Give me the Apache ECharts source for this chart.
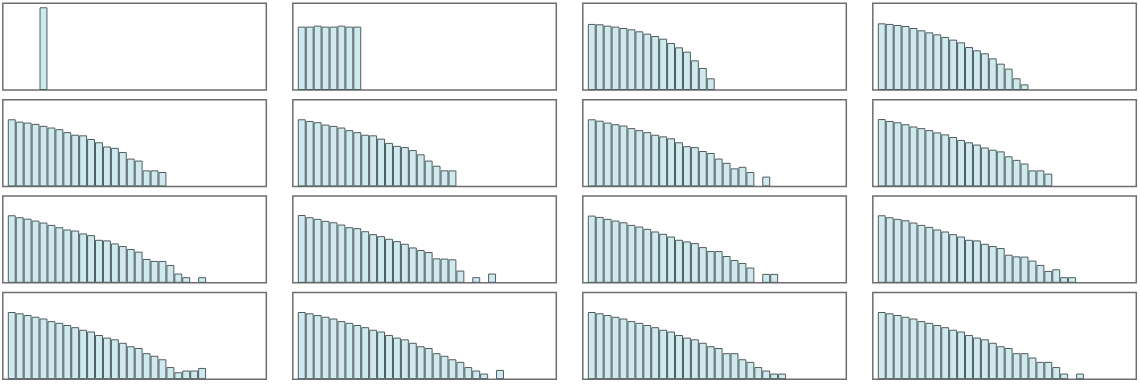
<!DOCTYPE html>
<html>
<head>
<meta charset="utf-8">
<script src="https://cdn.jsdelivr.net/npm/echarts@6/dist/echarts.min.js"></script>
<style>
html,body{margin:0;padding:0;background:#fff;}
#chart{width:1140px;height:384px;}
</style>
</head>
<body>
<div id="chart"></div>
<script>
// bin positions shared by every panel (32 bins)
const bins = Array.from({length: 32}, (_, i) => String(i));

// bar heights per panel, in % of the panel height (null = empty bin)
const panel01 = [null, null, null, null, 95.4];
const panel02 = [73.1, 73.1, 74.2, 73.1, 73.1, 74.2, 73.1, 73.1];
const panel03 = [76.2, 75.8, 74.2, 73.1, 71.5, 70.0, 67.7, 65.0, 62.3, 59.2, 54.2, 49.2, 44.2, 34.2, 25.4, 13.5];
const panel04 = [76.9, 76.2, 75.0, 73.8, 71.5, 68.8, 66.5, 64.2, 61.2, 58.1, 55.0, 49.6, 45.8, 42.3, 36.5, 30.4, 24.6, 13.5, 6.5];
const panel05 = [77.4, 74.7, 73.6, 72.1, 69.8, 67.9, 66.0, 62.6, 59.6, 58.9, 54.7, 50.9, 46.0, 44.5, 39.6, 32.1, 29.8, 18.5, 18.5, 16.6];
const panel06 = [77.4, 75.5, 74.0, 71.3, 69.8, 67.9, 64.9, 62.6, 59.6, 58.9, 55.1, 50.2, 46.8, 45.3, 41.9, 37.0, 29.8, 23.8, 18.5, 18.5];
const panel07 = [77.4, 75.8, 73.6, 71.7, 70.2, 67.2, 64.9, 62.6, 59.6, 57.7, 55.5, 50.9, 46.4, 45.3, 40.8, 38.5, 32.1, 27.2, 20.8, 22.6, 16.6, null, 11.3];
const panel08 = [77.7, 75.5, 74.0, 71.7, 69.1, 67.2, 64.9, 62.3, 60.0, 57.0, 53.6, 50.9, 48.3, 44.9, 42.3, 40.4, 34.7, 30.6, 26.4, 18.5, 18.5, 14.7];
const panel09 = [77.9, 75.6, 74.0, 71.8, 69.5, 66.8, 64.1, 61.5, 60.3, 56.9, 55.0, 49.6, 48.9, 45.4, 42.4, 38.9, 35.9, 27.5, 25.2, 25.2, 20.6, 10.7, 6.5, null, 6.5];
const panel10 = [78.2, 75.6, 73.7, 71.4, 69.8, 67.2, 64.1, 63.0, 59.5, 56.1, 53.8, 50.8, 48.1, 45.0, 40.8, 37.8, 35.5, 28.2, 27.9, 27.1, 14.1, null, 6.5, null, 10.7];
const panel11 = [77.5, 76.0, 73.7, 71.8, 69.8, 66.8, 64.9, 62.2, 59.2, 56.5, 53.4, 49.6, 47.7, 45.8, 41.2, 36.6, 36.6, 30.9, 26.3, 22.9, 17.6, null, 10.3, 10.3];
const panel12 = [77.9, 75.6, 73.7, 72.1, 69.5, 66.8, 64.5, 61.5, 59.2, 56.1, 53.4, 49.6, 48.9, 45.0, 42.4, 40.1, 32.4, 30.5, 30.2, 25.6, 20.6, 13.7, 15.6, 6.5, 6.5];
const panel13 = [77.5, 76.0, 74.0, 72.0, 70.0, 67.0, 65.0, 62.5, 60.0, 57.0, 55.0, 51.0, 48.0, 46.0, 42.0, 38.0, 36.0, 30.0, 27.0, 23.0, 14.0, 8.0, 10.0, 10.0, 13.0];
const panel14 = [77.5, 76.0, 74.0, 72.0, 70.0, 67.0, 65.0, 62.5, 60.0, 57.0, 55.0, 51.0, 48.0, 46.0, 42.0, 38.0, 36.0, 30.0, 27.0, 23.0, 20.0, 14.0, 10.0, 6.5, null, 10.7];
const panel15 = [77.5, 76.0, 74.0, 72.0, 70.0, 67.0, 65.0, 62.5, 60.0, 57.0, 55.0, 51.0, 48.0, 46.0, 42.0, 38.0, 36.0, 30.0, 30.0, 23.0, 20.0, 14.0, 10.0, 6.5, 6.5];
const panel16 = [77.5, 76.0, 74.0, 72.0, 70.0, 67.0, 65.0, 62.5, 60.0, 57.0, 55.0, 51.0, 48.0, 46.0, 42.0, 38.0, 36.0, 30.0, 30.0, 25.0, 20.0, 20.0, 14.0, 6.5, null, 6.5];

const panels = [panel01, panel02, panel03, panel04, panel05, panel06, panel07, panel08,
                panel09, panel10, panel11, panel12, panel13, panel14, panel15, panel16];

const chart = echarts.init(document.getElementById('chart'));

const frameW = 263.5, frameH = 86.7, colStep = 290, rowStep = 96.4, x0 = 2.8, y0 = 3.3;
const padL = 5, slot = 7.93;

const grid = [], xAxis = [], yAxis = [], series = [];
panels.forEach((vals, i) => {
  const col = i % 4, row = Math.floor(i / 4);
  const left = x0 + col * colStep, top = y0 + row * rowStep;
  // frame
  grid.push({left: left, top: top, width: frameW, height: frameH, show: true,
             borderColor: '#6e6e6e', borderWidth: 1.5, backgroundColor: 'transparent'});
  // plotting area
  grid.push({left: left + padL, top: top, width: slot * bins.length, height: frameH, show: false});
  const gi = grid.length - 1;
  const ai = xAxis.length;
  xAxis.push({type: 'category', gridIndex: gi, data: bins, show: false});
  yAxis.push({type: 'value', gridIndex: gi, min: 0, max: 100, show: false});
  const data = bins.map((_, k) => (k < vals.length ? vals[k] : null));
  series.push({
    type: 'bar', xAxisIndex: ai, yAxisIndex: ai, data: data,
    barCategoryGap: 0, silent: true,
    itemStyle: {color: '#cfeaee', borderColor: '#4f5d60', borderWidth: 1}
  });
});

chart.setOption({animation: false, grid, xAxis, yAxis, series});
</script>
</body>
</html>
